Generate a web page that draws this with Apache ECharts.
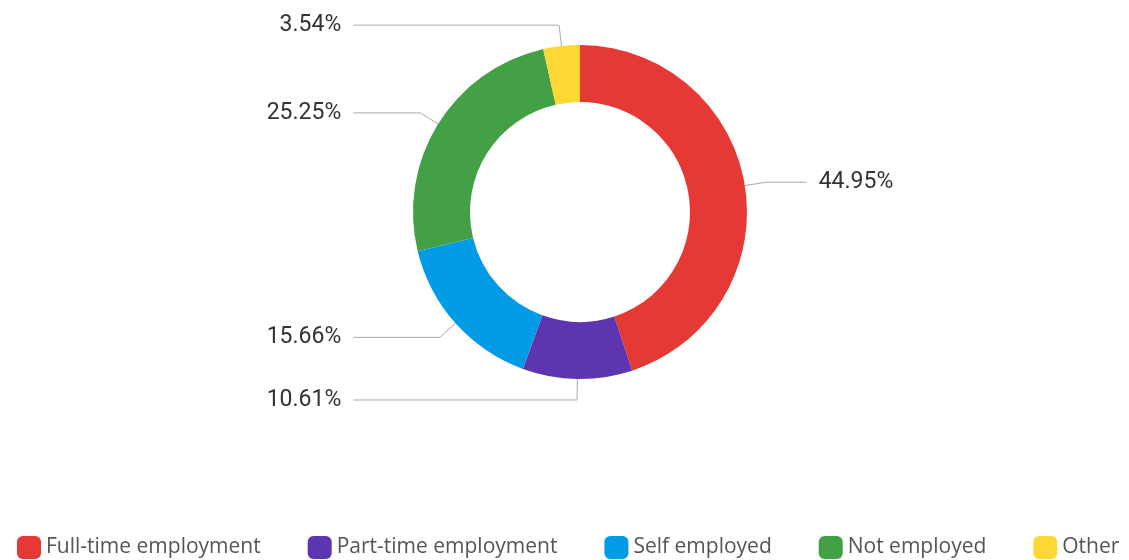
<!DOCTYPE html>
<html>
<head>
<meta charset="utf-8">
<script src="https://cdn.jsdelivr.net/npm/echarts@6/dist/echarts.min.js"></script>
<style>
html,body{margin:0;padding:0;background:#fff;}
#chart{width:1129px;height:560px;}
</style>
</head>
<body>
<div id="chart"></div>
<script>
const categories = ['Full-time employment', 'Part-time employment', 'Self employed', 'Not employed', 'Other'];
const values = [44.95, 10.61, 15.66, 25.25, 3.54];
const colors = ['#E53935', '#5E35B1', '#039BE5', '#43A047', '#FDD835'];

const chart = echarts.init(document.getElementById('chart'));
const data = categories.map((name, i) => {
  const item = { name: name, value: values[i], itemStyle: { color: colors[i] } };
  if (i === 0) item.labelLine = { length2: 41 };
  return item;
});

chart.setOption({
  animation: false,
  legend: {
    bottom: -4,
    left: 12,
    icon: 'roundRect',
    itemWidth: 24,
    itemHeight: 23,
    itemGap: 47,
    textStyle: { fontSize: 21, color: '#555', fontFamily: 'Open Sans' },
    data: categories
  },
  series: [{
    type: 'pie',
    center: [580, 212],
    radius: [110, 167],
    startAngle: 90,
    clockwise: true,
    avoidLabelOverlap: true,
    data: data,
    label: {
      show: true,
      formatter: p => p.value.toFixed(2) + '%',
      fontSize: 23,
      color: '#333',
      fontFamily: 'Roboto',
      alignTo: 'labelLine',
      distanceToLabelLine: 12
    },
    labelLine: {
      show: true,
      length: 21,
      length2: 67,
      lineStyle: { color: '#aaa', width: 1 }
    },
    emphasis: { disabled: true }
  }]
});
</script>
</body>
</html>
